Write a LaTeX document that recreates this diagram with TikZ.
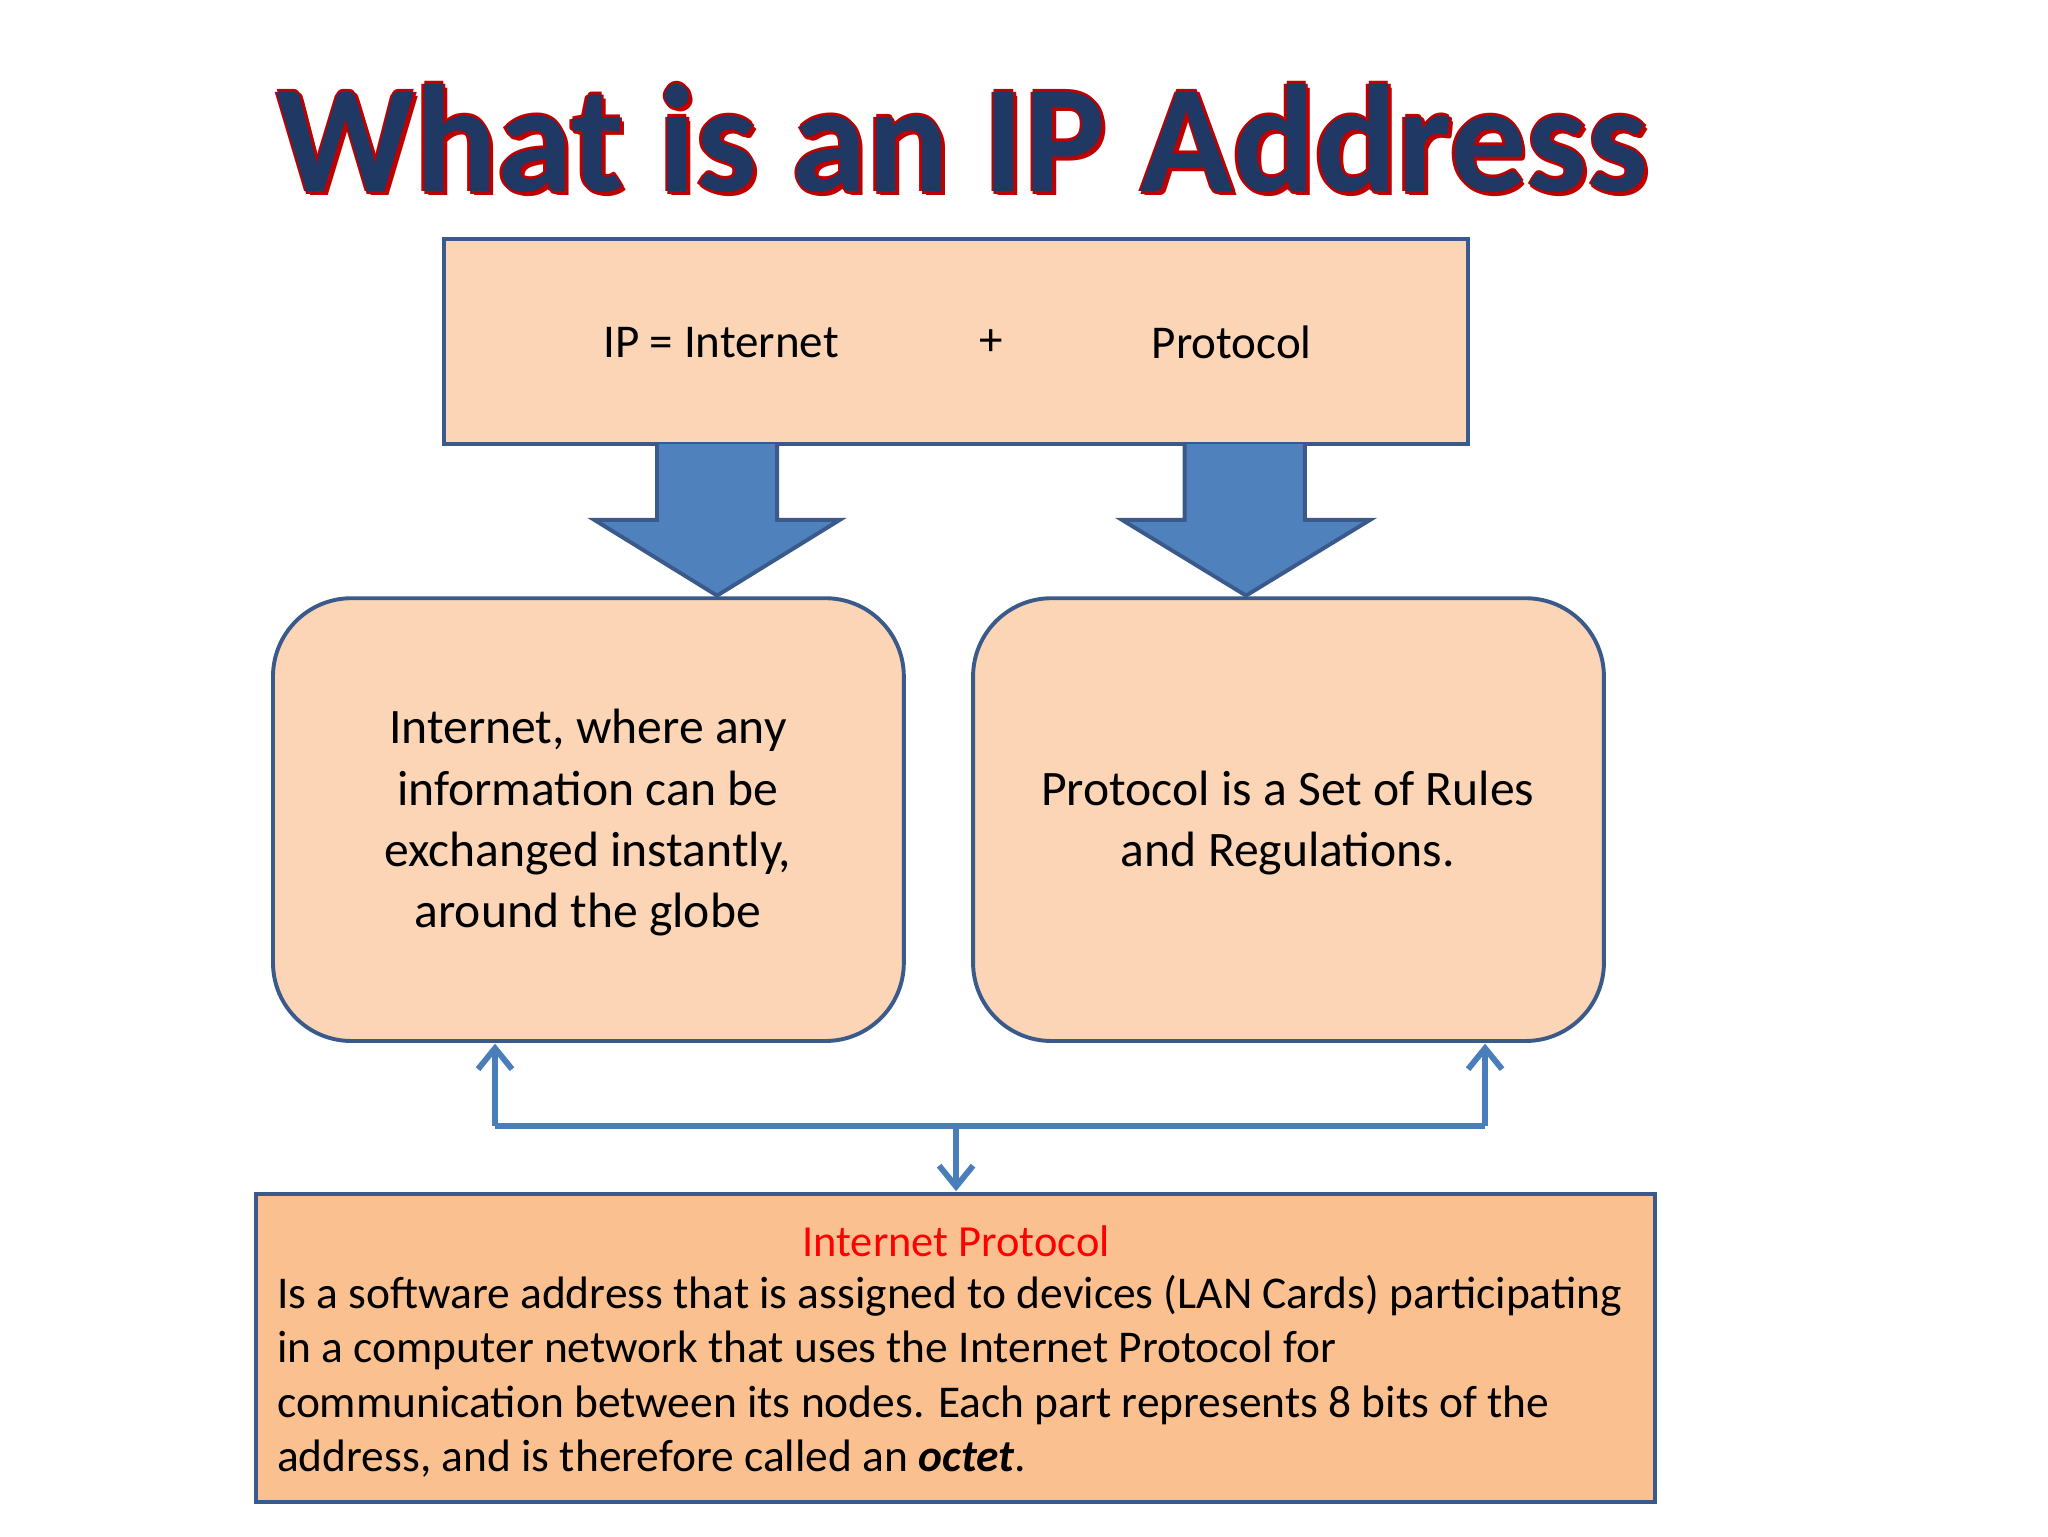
\documentclass[tikz,border=0pt]{standalone}
\usepackage{fontspec}
\setmainfont{Carlito}
\usetikzlibrary{arrows.meta}
\definecolor{boxfill}{HTML}{FBD5B5}
\definecolor{botfill}{HTML}{FAC090}
\definecolor{edge}{HTML}{3A5A8C}
\definecolor{arrfill}{HTML}{4F81BD}
\definecolor{conn}{HTML}{4A7EBB}
\definecolor{navy}{HTML}{1F3864}
\tikzset{
 sqbox/.style={draw=edge,line width=3pt,fill=boxfill},
 rbox/.style={draw=edge,line width=3pt,fill=boxfill,rounded corners=60pt},
 blockarrow/.style={fill=arrfill,draw=edge,line width=3pt},
 txt/.style={font=\fontsize{38}{47}\selectfont,align=center,inner sep=0},
 con/.style={draw=conn,line width=4.5pt,-{Straight Barb[length=16pt,width=26pt,line width=4.5pt]}},
 ttl/.style={font=\fontsize{117}{125}\selectfont\bfseries,inner sep=0}
}
\begin{document}
\begin{tikzpicture}[x=1pt,y=-1pt]
\useasboundingbox (0,0) rectangle (1568,1176);
\fill[white] (0,0) rectangle (1568,1176);
% title
\foreach \dx/\dy in {-2/0,2/0,0/-2,0/2,3/3}
  \node[ttl,text=red!75!black] at (737+\dx,106+\dy) {What is an IP Address};
\node[ttl,text=navy] (title) at (737,106) {What is an IP Address};
% top box
\draw[sqbox] (340,183) rectangle (1124,340);
\node[txt,font=\fontsize{36}{47}\selectfont] (ip) at (552,262) {IP = Internet};
\node[txt,font=\fontsize{36}{47}\selectfont] (plus) at (759,262) {+};
\node[txt,font=\fontsize{36}{47}\selectfont] (prot) at (943,262) {Protocol};
% block arrows
\draw[blockarrow] (503,340) -- (503,398) -- (455,398) -- (549,456) -- (643,398) -- (595,398) -- (595,340);
\draw[blockarrow] (907,340) -- (907,398) -- (859,398) -- (954,456) -- (1049,398) -- (999,398) -- (999,340);
% rounded boxes
\draw[rbox] (209,458) rectangle (692,797);
\draw[rbox] (745,458) rectangle (1228,797);
\node[txt] (left) at (450,630) {Internet, where any\\information can be\\exchanged instantly,\\around the globe};
\node[txt] (right) at (986,630) {Protocol is a Set of Rules\\and Regulations.};
% connectors
\coordinate (jl) at (379,862);
\coordinate (jr) at (1137,862);
\coordinate (jm) at (732,862);
\coordinate (ul) at (379,799);
\coordinate (ur) at (1137,799);
\coordinate (dm) at (732,912);
\draw[draw=conn,line width=4.5pt] (jl) -- (jr);
\draw[con] (jl) -- (ul);
\draw[con] (jr) -- (ur);
\draw[con] (jm) -- (dm);
% bottom box
\draw[sqbox,fill=botfill] (196,914) rectangle (1267,1150);
\node[txt,text=red,font=\fontsize{34}{42}\selectfont] (iphead) at (732,950) {Internet Protocol};
\node[txt,align=left,anchor=north west,font=\fontsize{34.8}{41.7}\selectfont] (desc) at (212,976) {Is a software address that is assigned to devices (LAN Cards) participating\\in a computer network that uses the Internet Protocol for\\communication between its nodes. Each part represents 8 bits of the\\address, and is therefore called an \textbf{\textit{octet}}.};
\end{tikzpicture}
\end{document}
